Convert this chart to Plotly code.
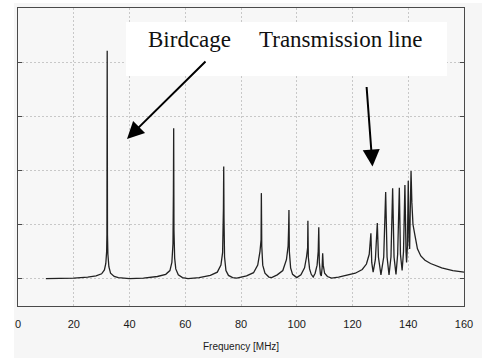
import plotly.graph_objects as go

# Spectrum (frequency in MHz, arbitrary amplitude)
freq = [10, 15, 20, 25, 28, 30, 31, 31.5, 31.8, 31.9, 32.0, 32.1, 32.25, 32.6, 33.2, 34.5, 36, 40,
        45, 50, 53, 54.5, 55.2, 55.6, 55.75, 55.85, 55.95, 56.2, 56.6, 57.5, 59, 61,
        65, 69, 71.5, 72.8, 73.4, 73.7, 73.8, 73.9, 74.1, 74.6, 75.5, 77, 78.5,
        82, 84.5, 86.0, 86.8, 87.2, 87.3, 87.45, 87.8, 88.6, 90, 91,
        93, 95, 96.3, 96.9, 97.1, 97.2, 97.35, 97.8, 98.5, 100,
        101.5, 102.8, 103.5, 103.9, 104.0, 104.15, 104.6, 105.2, 105.9,
        106.6, 107.3, 107.7, 107.9, 108.1, 108.5, 108.8, 109.1, 109.3, 109.5, 110, 111, 112.5,
        115, 118, 121, 123.5, 125, 126.0, 126.6, 126.9, 127.4, 128.2, 128.9, 129.3, 130.2,
        131.2, 131.9, 132.4, 133.1, 133.8, 134.4, 134.9, 135.6, 136.2, 136.8, 137.2, 137.8,
        138.3, 138.8, 139.2, 139.4, 139.7, 140.0, 140.3, 140.5, 140.7, 141.0, 141.3, 141.7,
        142.4, 143.3, 144.5, 146, 148, 152, 156, 160]
amp = [0.00, 0.00, 0.01, 0.03, 0.05, 0.09, 0.16, 0.28, 0.50, 0.81, 4.21, 0.81, 0.45, 0.22, 0.10, 0.04, 0.02, 0.00,
       0.01, 0.04, 0.08, 0.15, 0.30, 0.65, 1.56, 2.78, 0.90, 0.38, 0.18, 0.07, 0.02, 0.00,
       0.02, 0.06, 0.12, 0.25, 0.48, 1.30, 2.07, 1.12, 0.40, 0.15, 0.06, 0.02, 0.01,
       0.05, 0.11, 0.25, 0.50, 0.72, 1.58, 0.60, 0.25, 0.10, 0.03, 0.02,
       0.07, 0.15, 0.35, 0.60, 0.96, 1.27, 0.50, 0.20, 0.08, 0.02,
       0.07, 0.20, 0.40, 0.57, 1.07, 0.40, 0.18, 0.08, 0.03,
       0.10, 0.25, 0.50, 0.95, 0.30, 0.08, 0.05, 0.20, 0.47, 0.25, 0.10, 0.04, 0.01,
       0.03, 0.06, 0.10, 0.17, 0.27, 0.45, 0.84, 0.30, 0.12, 0.35, 1.03, 0.40, 0.07,
       0.40, 1.60, 0.40, 0.07, 0.40, 1.67, 0.40, 0.08, 0.45, 1.68, 0.45, 0.15,
       0.50, 1.73, 0.50, 0.30, 0.60, 1.81, 0.70, 0.55, 1.20, 1.99, 1.40, 1.00,
       0.80, 0.55, 0.42, 0.34, 0.28, 0.20, 0.15, 0.12]

x_ticks = [0, 20, 40, 60, 80, 100, 120, 140, 160]
y_grid = [0, 1, 2, 3, 4]

W, H = 482, 358
L, R, T, B = 18, 18, 8, 52
pw, ph = W - L - R, H - T - B


def px(x):
    return (x - L) / pw


def py(y):
    return (H - B - y) / ph


fig = go.Figure()
fig.add_trace(go.Scatter(x=freq, y=amp, mode="lines",
                         line=dict(color="#222222", width=1.3),
                         hoverinfo="skip", showlegend=False))

grid_dash = "2px,2px"

fig.update_layout(
    width=W, height=H,
    margin=dict(l=L, r=R, t=T, b=B),
    paper_bgcolor="#f6f6f6",
    plot_bgcolor="#f7f7f7",
    showlegend=False,
    xaxis=dict(range=[0, 160], tickvals=x_ticks, ticktext=[str(v) for v in x_ticks],
               showgrid=True, gridcolor="#c8c8c8", griddash=grid_dash, gridwidth=1,
               zeroline=False, showline=True, linecolor="#4a4a4a", linewidth=1,
               mirror=True, ticks="", ticklabelstandoff=8,
               tickfont=dict(family="Liberation Sans, Arial", size=11, color="#1a1a1a")),
    yaxis=dict(range=[-0.505, 5.0], tickvals=y_grid, showticklabels=False,
               showgrid=True, gridcolor="#c8c8c8", griddash=grid_dash, gridwidth=1,
               zeroline=False, showline=True, linecolor="#4a4a4a", linewidth=1,
               mirror="ticks", ticks="inside", ticklen=4, tickcolor="#4a4a4a"),
    shapes=[
        dict(type="rect", xref="paper", yref="paper", x0=px(0), x1=px(14), y0=py(H), y1=py(0),
             fillcolor="white", line=dict(width=0), layer="below"),
        dict(type="rect", xref="paper", yref="paper", x0=px(0), x1=px(W), y0=py(3), y1=py(0),
             fillcolor="white", line=dict(width=0), layer="below"),
        dict(type="rect", xref="paper", yref="paper", x0=px(126), x1=px(447), y0=py(76), y1=py(22),
             fillcolor="white", line=dict(width=0), layer="above"),
    ],
    annotations=[
        dict(text="Frequency [MHz]", xref="paper", yref="paper", x=0.5, y=py(346),
             xanchor="center", yanchor="middle", showarrow=False,
             font=dict(family="Liberation Sans, Arial", size=10, color="#1a1a1a")),
        dict(text="Birdcage", xref="paper", yref="paper", x=px(146), y=py(40),
             xanchor="left", yanchor="middle", showarrow=False,
             font=dict(family="Liberation Serif, Times New Roman", size=23, color="#111111")),
        dict(text="Transmission line", xref="paper", yref="paper", x=px(257), y=py(40),
             xanchor="left", yanchor="middle", showarrow=False,
             font=dict(family="Liberation Serif, Times New Roman", size=23, color="#111111")),
        dict(text="", xref="paper", yref="paper", x=px(127), y=py(139),
             axref="pixel", ayref="pixel", ax=80, ay=-79, showarrow=True,
             arrowhead=2, arrowsize=1.7, arrowwidth=2, arrowcolor="#000000", standoff=0),
        dict(text="", xref="paper", yref="paper", x=px(372.5), y=py(166.5),
             axref="pixel", ayref="pixel", ax=-6, ay=-81, showarrow=True,
             arrowhead=2, arrowsize=1.7, arrowwidth=2, arrowcolor="#000000", standoff=0),
    ],
)

fig.write_html("out.html", config={"displayModeBar": False},
               post_script="document.body.style.margin='0';")
